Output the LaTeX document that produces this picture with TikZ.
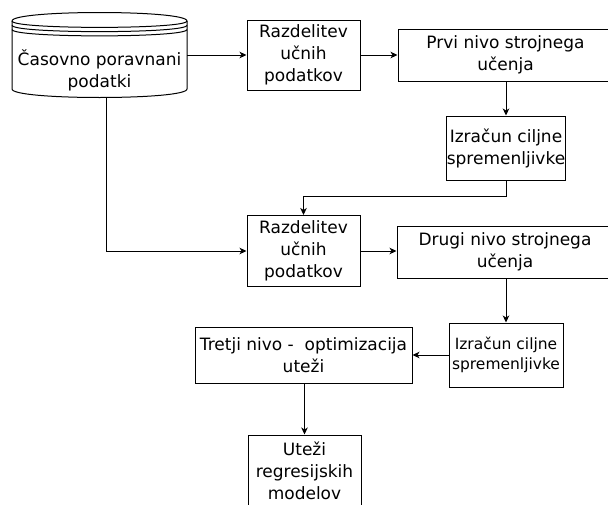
\documentclass[tikz,border=0pt]{standalone}
\usepackage{fontspec}
\setmainfont{DejaVu Sans}
\usetikzlibrary{arrows.meta}
\begin{document}
\begin{tikzpicture}[x=1pt,y=-1pt,
  every node/.style={inner sep=0pt, align=center, font=\fontsize{17}{22}\selectfont},
  box/.style={draw, line width=1pt, fill=white},
  smalltext/.style={font=\fontsize{15.5}{20}\selectfont},
  conn/.style={line width=1pt, -{Stealth[length=7pt,width=6.5pt,inset=2pt]}},
  line/.style={line width=1pt}]
% page frame
\fill[white] (0,0) rectangle (608,504);
\useasboundingbox (0,0) rectangle (608,504);

% data store (cylinder with stacked rims)
\node[minimum width=175pt, minimum height=85pt] (cyl) at (99.5,55) {};
\draw[line, fill=white] (12,21) .. controls (12,9.67) and (187,9.67) .. (187,21)
  -- (187,89) .. controls (187,100.33) and (12,100.33) .. (12,89) -- cycle;
\draw[line] (12,21) .. controls (12,29.5) and (187,29.5) .. (187,21);
\draw[line] (12,25.25) .. controls (12,33.75) and (187,33.75) .. (187,25.25);
\draw[line] (12,29.5) .. controls (12,38) and (187,38) .. (187,29.5);
\node (cyltext) at (99.5,70) {Časovno poravnani\\podatki};

% first level
\node[box, minimum width=113pt, minimum height=70pt] (r1) at (303.5,55) {Razdelitev\\učnih\\podatkov};
\node[box, minimum width=215pt, minimum height=52pt] (p1) at (505.5,55) {Prvi nivo strojnega\\učenja};
\node[box, minimum width=114pt, minimum height=64pt] (i1) at (506,148) {Izračun ciljne\\spremenljivke};

% second level
\node[box, minimum width=113pt, minimum height=71pt] (r2) at (303.5,251) {Razdelitev\\učnih\\podatkov};
\node[box, minimum width=216pt, minimum height=52pt] (d2) at (505,252) {Drugi nivo strojnega\\učenja};
\node[box, smalltext, minimum width=114pt, minimum height=64pt] (i2) at (506,355) {Izračun ciljne\\spremenljivke};

% third level
\node[box, minimum width=217pt, minimum height=56pt] (t3) at (303.5,355) {Tretji nivo -~ optimizacija\\uteži};
\node[box, minimum width=113pt, minimum height=72pt] (u) at (304.5,471) {Uteži\\regresijskih\\modelov};

% connectors
\draw[conn] (cyl.east) -- (r1.west);
\draw[conn] (r1.east) -- (p1.west);
\draw[conn] (i1.north |- p1.south) -- (i1.north);
\draw[conn] (i1.south) -- ++(0,16) -| (r2.north);
\draw[conn] ([xshift=6.5pt]cyl.south) |- (r2.west);
\draw[conn] (r2.east) -- (r2.east -| d2.west);
\draw[conn] (i2.north |- d2.south) -- (i2.north);
\draw[conn] (i2.west) -- (t3.east);
\draw[conn] (u.north |- t3.south) -- (u.north);
\end{tikzpicture}
\end{document}
